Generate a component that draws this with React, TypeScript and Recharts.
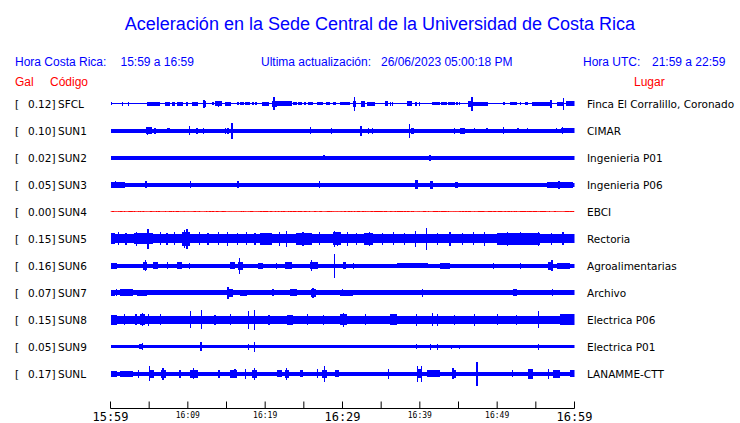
import React from 'react';
import { ComposedChart, Area, Line, XAxis, YAxis } from 'recharts';

const W = 740;
const H = 423;
const BLUE = '#0000ff';
const RED = '#ff0000';

const codes = ['SFCL', 'SUN1', 'SUN2', 'SUN3', 'SUN4', 'SUN5', 'SUN6', 'SUN7', 'SUN8', 'SUN9', 'SUNL'];
const gals = ['0.12', '0.10', '0.02', '0.05', '0.00', '0.15', '0.16', '0.07', '0.15', '0.05', '0.17'];
const places = [
  'Finca El Corralillo, Coronado', 'CIMAR', 'Ingenieria P01', 'Ingenieria P06', 'EBCI', 'Rectoria',
  'Agroalimentarias', 'Archivo', 'Electrica P06', 'Electrica P01', 'LANAMME-CTT',
];
const xTicks = [0, 5, 10, 15, 20, 25, 30, 35, 40, 45, 50, 55, 60];
const tickLabels: Record<number, string> = {
  0: '15:59', 10: '16:09', 20: '16:19', 30: '16:29', 40: '16:39', 50: '16:49', 60: '16:59',
};
const majorTicks = [0, 30, 60];

// background half-amplitude of each trace
const baseAmp = [0.6, 2, 2, 2, 0, 4.5, 2, 2.3, 4, 1.5, 2];

// bursts: [startMinute, endMinute, halfAmplitude]; spikes: [minute, halfAmplitude]
const sfclBursts = [
  [4.7, 6.4, 2], [7.0, 7.7, 2], [8.0, 8.3, 2], [8.6, 9.4, 2], [9.8, 10.0, 2], [10.5, 11.3, 2], [12.0, 12.3, 3],
  [13.1, 13.4, 1.5], [13.5, 14.4, 2.5], [14.8, 15.6, 2], [16.4, 16.6, 1.5], [16.7, 17.3, 1.5], [17.4, 18.0, 1.5],
  [18.3, 18.6, 1.5], [18.7, 18.9, 1.5], [19.6, 20.5, 2], [20.9, 21.5, 3], [21.5, 23.5, 2.5], [23.6, 24.1, 1.5],
  [24.2, 24.8, 1.5], [25.0, 25.3, 1.5], [25.5, 26.2, 1.5], [26.7, 27.5, 1.5], [27.9, 28.4, 1.5], [28.8, 29.2, 1.5],
  [29.7, 31.0, 1.5], [31.4, 31.8, 3], [32.4, 32.9, 3], [33.2, 34.2, 2], [35.5, 35.9, 2.5], [38.3, 39.0, 2.5],
  [41.6, 42.6, 1.5], [42.7, 43.5, 1.5], [43.6, 44.5, 1.5], [46.2, 46.9, 3], [46.9, 48.8, 2], [50.8, 51.0, 1.5],
  [51.7, 52.6, 1.5], [53.6, 54.0, 1.5], [54.5, 57.1, 2], [57.7, 58.5, 2], [58.9, 60, 2.5],
];
const sfclSpikes = [
  [0.05, 1.5], [1.6, 2], [2.3, 2], [12.1, 4], [14.0, 3], [21.15, 6.5], [31.55, 7], [36.2, 2], [36.5, 2],
  [39.5, 2], [40.0, 2], [44.8, 1.5], [45.1, 1.5], [46.75, 7], [53.0, 1.5], [56.95, 4], [58.6, 6],
];

const sun1Bursts = [[4.6, 5.4, 3.3], [7.3, 7.7, 2.8], [15.6, 15.9, 3.5], [38.8, 39.3, 3], [45.2, 45.8, 3], [58.2, 60, 2.4]];
const sun1Spikes = [
  [4.8, 4], [5.75, 3], [10.2, 4.5], [11.2, 3], [12.0, 3], [14.9, 3], [15.2, 3], [15.7, 8], [25.9, 3.5], [28.6, 3],
  [32.4, 5], [33.4, 3], [33.9, 3], [38.7, 7], [44.5, 3], [47.1, 2.7], [48.7, 2.7], [50.8, 3.5], [52.7, 2.7],
  [53.9, 2.7], [57.7, 2.7], [58.4, 3.5],
];

const sun2Bursts: number[][] = [];
const sun2Spikes = [[27.6, 2.7], [41.3, 3]];

const sun3Bursts = [[0, 1.9, 3], [39.4, 39.8, 4.5], [41.3, 41.7, 4], [44.5, 44.9, 3], [56.4, 59.8, 3]];
const sun3Spikes = [[0.6, 3.5], [4.6, 3.5], [10.3, 3.5], [16.5, 3.5], [27, 3.5], [58, 4]];

const sun4Bursts: number[][] = [];
const sun4Spikes: number[][] = [];

const sun5Bursts = [
  [0, 0.6, 5.5], [3, 5.5, 5.5], [9.3, 10.3, 7], [19.3, 20.9, 6], [24, 26, 6], [28.8, 29.8, 6.5], [32.8, 34, 6],
  [50, 55.5, 6],
];
const sun5Spikes = [
  [1.0, 6.5], [2.0, 6], [3.4, 7], [4.85, 10], [6.5, 6.5], [7.3, 6], [8.3, 6.5], [9.6, 9], [9.9, 10], [11.5, 6.5],
  [12.6, 6], [14.0, 6.5], [15.1, 7], [16.4, 6], [17.6, 6.5], [18.7, 6], [21.9, 7], [22.8, 8], [24.9, 7], [27.0, 6.5],
  [29.0, 8], [29.4, 7], [30.6, 7], [31.8, 6], [33.5, 7], [35.2, 6], [36.6, 6.5], [38.0, 6], [39.4, 8], [40.9, 11],
  [42.3, 6], [43.9, 7], [45.5, 6], [46.9, 6.5], [48.4, 7], [51.3, 7], [53.0, 6.5], [55.3, 7], [57.0, 6], [58.5, 6.5],
];

const sun6Bursts = [
  [0, 0.9, 3], [4.2, 4.7, 4], [5.5, 6.1, 3.5], [8.6, 9.2, 3.5], [15.5, 16.1, 3.5], [16.5, 17.1, 4], [19.1, 19.7, 3],
  [22.6, 23.5, 3.5], [25.8, 26.8, 3.5], [30.1, 30.5, 3.5], [37, 41, 2.8], [42.6, 43.9, 3], [56.6, 57.2, 4],
  [57.7, 59.4, 3],
];
const sun6Spikes = [
  [4.5, 5.5], [7.4, 3.5], [10.2, 3], [16.7, 8], [21.5, 3], [26, 5.5], [29, 12], [31.4, 3], [49.5, 3], [53, 3], [57.1, 5.5],
];

const sun7Bursts = [
  [0, 0.6, 3], [1.2, 2.9, 3.3], [3.4, 4.7, 3], [5.1, 15.1, 2.9], [15.1, 15.8, 4], [16.7, 17.6, 3], [23.2, 24.1, 3.5],
  [25.9, 26.6, 4], [29.7, 31.4, 3], [52, 52.6, 3.5],
];
const sun7Spikes = [[0.8, 3.5], [2.1, 3.5], [15.2, 6], [21, 3.5], [26.2, 5], [30, 3.5], [40.3, 4], [57.2, 3.5]];

const sun8Bursts = [[0, 0.8, 5], [3.8, 4.5, 5.5], [22.8, 23.6, 5], [29.7, 30.6, 5.5], [36.1, 37, 5.5], [58.1, 60, 5.5]];
const sun8Spikes = [
  [1.8, 5.5], [3.3, 5.5], [4.1, 6.5], [4.9, 6], [6.5, 5.5], [10.3, 8.5], [11.8, 9.5], [13.5, 5], [15.5, 5.5],
  [17.8, 9], [18.6, 10], [20.5, 5], [25.5, 5.5], [27.5, 5], [30.1, 7], [33, 5.5], [39.6, 6], [41.6, 6.5], [42.3, 6],
  [44.5, 5], [47.1, 6], [50, 5.5], [52.5, 5], [55.3, 8.5],
];

const sun9Bursts = [[3.7, 4.2, 2.5]];
const sun9Spikes = [
  [4.1, 3.5], [11.7, 4.5], [17.8, 3], [18.6, 5], [39.6, 2.5], [41.4, 3], [42.3, 3], [44.1, 2], [45.1, 2], [55.3, 3],
];

const sunlBursts = [
  [0, 0.9, 3], [1.2, 2.9, 3], [5, 5.6, 4], [6.5, 7.2, 4], [10.3, 11.3, 4], [13.9, 14.2, 4], [15.5, 16.4, 4],
  [18.3, 19.0, 4], [21.5, 22.2, 3.5], [22.6, 23.1, 4], [24.5, 24.9, 3.5], [27.4, 28, 4], [29, 29.6, 3.5],
  [39.6, 40.3, 4.5], [40.9, 42.6, 3.5], [44.1, 44.7, 4], [54, 54.6, 5], [57.2, 58.1, 4], [59.4, 60, 3.5],
];
const sunlSpikes = [
  [3.6, 4], [5, 7.5], [6.8, 6], [9, 4], [10.7, 5.5], [16.1, 4.5], [17.5, 5], [18.6, 6], [22.8, 6], [26.8, 4.5],
  [27.7, 8], [35.9, 5], [39.7, 8], [40.2, 8], [44.3, 5.5], [47.4, 12], [52, 3.5], [56.6, 5],
];

const allBursts = [sfclBursts, sun1Bursts, sun2Bursts, sun3Bursts, sun4Bursts, sun5Bursts, sun6Bursts, sun7Bursts, sun8Bursts, sun9Bursts, sunlBursts];
const allSpikes = [sfclSpikes, sun1Spikes, sun2Spikes, sun3Spikes, sun4Spikes, sun5Spikes, sun6Spikes, sun7Spikes, sun8Spikes, sun9Spikes, sunlSpikes];

// layout (in y-axis units, 1 unit = 1px)
const Y_TOP = 89.5;
const Y_AXIS = 408.5;
const PLOT_H = Y_AXIS - Y_TOP;
const ROW = 27;
const FIRST = 14;
const SPIKE_W = 0.08;
const center = (i: number) => FIRST + ROW * i;

function ampAt(i: number, t: number) {
  let a = baseAmp[i];
  for (const b of allBursts[i]) if (t >= b[0] && t < b[1]) a = Math.max(a, b[2]);
  for (const s of allSpikes[i]) if (Math.abs(t - s[0]) < SPIKE_W) a = Math.max(a, s[1]);
  return a;
}

function buildData() {
  const set = new Set<number>([0, 60]);
  allBursts.forEach((bs) => bs.forEach((b) => { set.add(b[0]); set.add(b[1]); }));
  allSpikes.forEach((ss) => ss.forEach((s) => { set.add(Math.max(0, s[0] - SPIKE_W)); set.add(Math.min(60, s[0] + SPIKE_W)); }));
  const bps = Array.from(set).filter((v) => v >= 0 && v <= 60).sort((a, b) => a - b);
  const rows: any[] = [];
  for (let k = 0; k < bps.length; k++) {
    const t = bps[k];
    const mid = k < bps.length - 1 ? (t + bps[k + 1]) / 2 : t - 1e-6;
    const row: any = { t };
    for (let i = 0; i < codes.length; i++) {
      const a = ampAt(i, mid);
      const c = center(i);
      row['s' + i] = [c - a, c + a];
      row['c' + i] = c;
    }
    rows.push(row);
  }
  return rows;
}

const data = buildData();

const TimeTick = (props: any) => {
  const { x, y, payload } = props;
  const v = payload.value;
  const label = tickLabels[v];
  const major = majorTicks.includes(v);
  return (
    <g>
      <line x1={x} x2={x} y1={y - 7} y2={y} stroke="#000" strokeWidth={1} />
      {label && (
        <text x={x} y={y + (major ? 12 : 9.5)} textAnchor="middle" fontFamily="DejaVu Sans Mono" fontSize={major ? 12 : 8} fill="#000">
          {label}
        </text>
      )}
    </g>
  );
};

const sans = 'Liberation Sans, Arial, sans-serif';
const djv = 'DejaVu Sans, sans-serif';

export default function App() {
  return (
    <div style={{ position: 'absolute', left: 0, top: 0, width: W, height: H, background: '#fff' }}>
      <style>{'.recharts-area-area{shape-rendering:crispEdges}'}</style>
      <ComposedChart
        width={W}
        height={H}
        data={data}
        margin={{ top: Y_TOP, right: W - 574.5, bottom: 0, left: 110.5 }}
      >
        <XAxis
          type="number"
          dataKey="t"
          domain={[0, 60]}
          ticks={xTicks}
          interval={0}
          tickLine={false}
          tickSize={0}
          tickMargin={0}
          axisLine={{ stroke: '#000', strokeWidth: 1 }}
          height={H - Y_AXIS}
          tick={<TimeTick />}
          allowDataOverflow
        />
        <YAxis type="number" hide domain={[0, PLOT_H]} reversed allowDataOverflow />
        {codes.map((c, i) =>
          i === 4 ? (
            <Line key={c} type="linear" dataKey={'c' + i} stroke={RED} strokeWidth={1} dot={false} activeDot={false} isAnimationActive={false} />
          ) : (
            <Area
              key={c}
              type="stepAfter"
              dataKey={'s' + i}
              fill={BLUE}
              fillOpacity={1}
              stroke="none"
              dot={false}
              activeDot={false}
              isAnimationActive={false}
            />
          )
        )}
      </ComposedChart>
      <svg width={W} height={H} style={{ position: 'absolute', left: 0, top: 0, pointerEvents: 'none' }}>
        <text x={380} y={29.5} textAnchor="middle" fontFamily={sans} fontSize={18} fill={BLUE}>
          Aceleración en la Sede Central de la Universidad de Costa Rica
        </text>
        <g fontFamily={sans} fontSize={12} fill={BLUE}>
          <text x={15} y={66}>Hora Costa Rica:</text>
          <text x={120.5} y={66}>15:59 a 16:59</text>
          <text x={261} y={66}>Ultima actualización:</text>
          <text x={381} y={66}>26/06/2023 05:00:18 PM</text>
          <text x={583} y={66}>Hora UTC:</text>
          <text x={652} y={66}>21:59 a 22:59</text>
        </g>
        <g fontFamily={sans} fontSize={12} fill={RED}>
          <text x={15} y={85.5}>Gal</text>
          <text x={50} y={85.5}>Código</text>
          <text x={634} y={85.5}>Lugar</text>
        </g>
        <g fontFamily={djv} fontSize={10.5} fill="#000">
          {codes.map((c, i) => {
            const yy = Y_TOP + center(i) + 4;
            return (
              <g key={c}>
                <text x={15} y={yy}>[</text>
                <text x={55.5} y={yy} textAnchor="end">{gals[i] + ']'}</text>
                <text x={58} y={yy}>{c}</text>
                <text x={587} y={yy}>{places[i]}</text>
              </g>
            );
          })}
        </g>
      </svg>
    </div>
  );
}
